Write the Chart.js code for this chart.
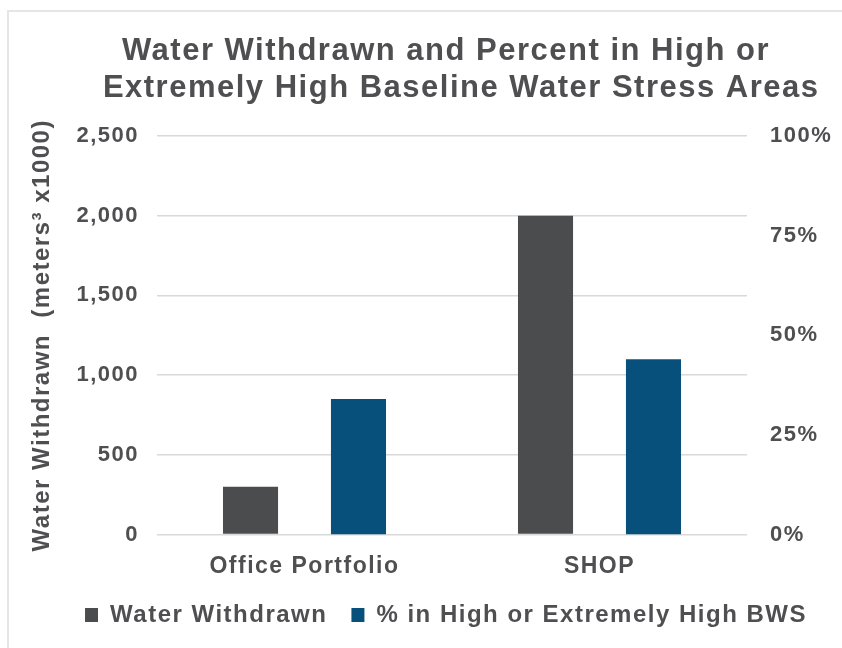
<!DOCTYPE html>
<html>
<head>
<meta charset="utf-8">
<script src="https://cdn.jsdelivr.net/npm/chart.js@4"></script>
<style>
  html, body { margin: 0; padding: 0; background: #fff; overflow: hidden; width: 842px; height: 648px; }
  #frame { position: absolute; left: 7px; top: 10px; width: 1000px; height: 1000px; border: 2px solid #e6e6e6; }
  #c { position: absolute; left: 9px; top: 12px; }
</style>
</head>
<body>
<div id="frame"></div>
<canvas id="c" width="874" height="636"></canvas>
<script>
// Data
const categories = ['Office Portfolio', 'SHOP'];
const waterWithdrawn = [300, 2000];          // meters³ x1000
const pctHighBWS = [34, 44];                 // % in high / extremely high baseline water stress
const leftTicks = [0, 500, 1000, 1500, 2000, 2500];
const rightTicks = [0, 25, 50, 75, 100];
const titleLines = ['Water Withdrawn and Percent in High or', '   Extremely High Baseline Water Stress Areas'];
const yTitle = 'Water Withdrawn  (meters³ x1000)';
const seriesNames = ['Water Withdrawn', '% in High or Extremely High BWS'];

const TEXT = '#4f4f51';
const FONT = "'Liberation Sans', Arial, Helvetica, sans-serif";

// slightly open tracking on all canvas text
const tracking = {
  id: 'tracking',
  beforeUpdate(chart) { chart.ctx.letterSpacing = '1.5px'; },
  beforeDraw(chart) { chart.ctx.letterSpacing = '1.5px'; }
};

new Chart(document.getElementById('c'), {
  type: 'bar',
  data: {
    labels: categories,
    datasets: [
      {
        label: seriesNames[0],
        data: waterWithdrawn,
        backgroundColor: '#4b4c4e',
        yAxisID: 'y',
        categoryPercentage: 0.732,
        barPercentage: 0.51
      },
      {
        label: seriesNames[1],
        data: pctHighBWS,
        backgroundColor: '#08507c',
        yAxisID: 'y2',
        categoryPercentage: 0.732,
        barPercentage: 0.51
      }
    ]
  },
  options: {
    responsive: false,
    animation: false,
    layout: { padding: { left: 0, right: 0, top: 0, bottom: 11 } },
    plugins: {
      title: {
        display: true,
        text: titleLines,
        color: TEXT,
        font: { family: FONT, size: 31, weight: 'bold', lineHeight: 37 / 31 },
        padding: { top: 21, bottom: 29 }
      },
      legend: {
        position: 'bottom',
        labels: {
          color: TEXT,
          font: { family: FONT, size: 24, weight: 'bold' },
          boxWidth: 13,
          boxHeight: 14,
          padding: 24
        }
      },
      tooltip: { enabled: false }
    },
    scales: {
      x: {
        grid: { display: false },
        border: { display: false },
        ticks: {
          color: TEXT,
          font: { family: FONT, size: 23, weight: 'bold' },
          padding: 10
        },
        afterFit(s) { s.height = 44.5; }
      },
      y: {
        position: 'left',
        min: 0,
        max: 2500,
        afterBuildTicks(s) { s.ticks = leftTicks.map(v => ({ value: v })); },
        grid: { color: '#d9d9d9', lineWidth: 1.5, drawTicks: false },
        border: { display: false },
        ticks: {
          color: TEXT,
          font: { family: FONT, size: 22, weight: 'bold' },
          padding: 18,
          callback: v => v.toLocaleString('en-US')
        },
        title: {
          display: true,
          text: yTitle,
          color: TEXT,
          font: { family: FONT, size: 24, weight: 'bold' },
          padding: { top: 19, bottom: 0 }
        },
        afterFit(s) { s.width = 148; }
      },
      y2: {
        position: 'right',
        min: 0,
        max: 100,
        afterBuildTicks(s) { s.ticks = rightTicks.map(v => ({ value: v })); },
        grid: { display: false, drawTicks: false },
        border: { display: false },
        ticks: {
          color: TEXT,
          font: { family: FONT, size: 22, weight: 'bold' },
          padding: 23,
          callback: v => v + '%'
        },
        afterFit(s) { s.width = 136; }
      }
    }
  },
  plugins: [tracking]
});
</script>
</body>
</html>
